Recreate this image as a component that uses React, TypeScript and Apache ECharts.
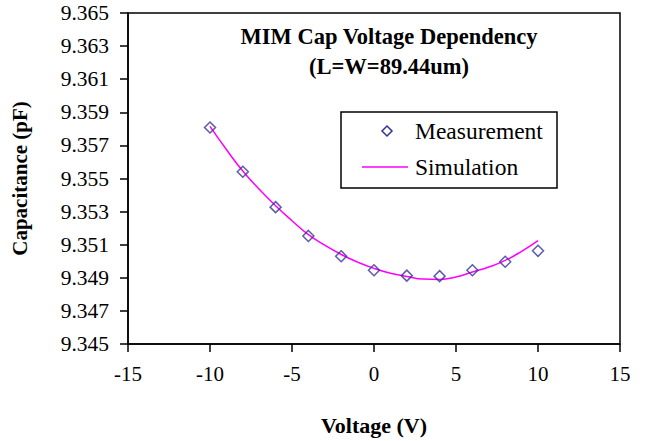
import React, { useEffect, useRef } from "react";
import * as echarts from "echarts";

// Bias voltage (V) at which the capacitance was measured
const measuredVoltage = [-10, -8, -6, -4, -2, 0, 2, 4, 6, 8, 10];
// Measured capacitance (pF)
const measuredCap = [
  9.35808, 9.35541, 9.35327, 9.35153, 9.3503, 9.34946, 9.34913, 9.3491, 9.34946,
  9.34997, 9.35063,
];

// Simulated capacitance curve
const simVoltage = [
  -10, -9, -8, -7, -6, -5, -4, -3, -2, -1, 0, 1, 2, 3, 4, 5, 6, 7, 8, 9, 10,
];
const simCap = [
  9.35815, 9.35675, 9.35545, 9.35435, 9.35335, 9.35245, 9.35161, 9.35097, 9.35041,
  9.34995, 9.34957, 9.34928, 9.34908, 9.34892, 9.3489, 9.34905, 9.34935, 9.34965,
  9.35005, 9.3506, 9.35125,
];

const titleLines = ["MIM Cap Voltage Dependency", "(L=W=89.44um)"];
const seriesNames = ["Measurement", "Simulation"];

const FONT = "'Liberation Serif', 'Times New Roman', serif";
const MARKER_COLOR = "#333399";
const LINE_COLOR = "#ff00ff";

export default function App() {
  const ref = useRef<HTMLDivElement>(null);

  useEffect(() => {
    if (!ref.current) return;
    const chart = echarts.init(ref.current, undefined, { renderer: "svg" });

    chart.setOption({
      animation: false,
      backgroundColor: "#ffffff",
      grid: {
        left: 128,
        top: 13,
        right: 25,
        bottom: 95,
        show: true,
        borderColor: "#000000",
        borderWidth: 1.5,
        backgroundColor: "transparent",
      },
      xAxis: {
        type: "value",
        min: -15,
        max: 15,
        interval: 5,
        name: "Voltage (V)",
        nameLocation: "middle",
        nameGap: 70,
        nameTextStyle: {
          fontFamily: FONT,
          fontWeight: "bold",
          fontSize: 22,
          color: "#000000",
        },
        axisLine: { onZero: false, lineStyle: { color: "#000000", width: 1.5 } },
        axisTick: { show: true, inside: false, length: 8, lineStyle: { color: "#000000", width: 1.5 } },
        axisLabel: {
          fontFamily: FONT,
          fontSize: 21,
          color: "#000000",
          margin: 19,
        },
        splitLine: { show: false },
      },
      yAxis: {
        type: "value",
        min: 9.345,
        max: 9.365,
        interval: 0.002,
        name: "Capacitance (pF)",
        nameLocation: "middle",
        nameGap: 98,
        nameRotate: 90,
        nameTextStyle: {
          fontFamily: FONT,
          fontWeight: "bold",
          fontSize: 21,
          color: "#000000",
        },
        axisLine: { onZero: false, lineStyle: { color: "#000000", width: 1.5 } },
        axisTick: { show: true, inside: false, length: 8, lineStyle: { color: "#000000", width: 1.5 } },
        axisLabel: {
          fontFamily: FONT,
          fontSize: 21.5,
          color: "#000000",
          margin: 19,
          formatter: (v: number) => v.toFixed(3),
        },
        splitLine: { show: false },
      },
      series: [
        {
          name: seriesNames[1],
          type: "line",
          data: simVoltage.map((v, i) => [v, simCap[i]]),
          smooth: true,
          showSymbol: false,
          lineStyle: { color: LINE_COLOR, width: 1.5 },
          z: 2,
        },
        {
          name: seriesNames[0],
          type: "scatter",
          data: measuredVoltage.map((v, i) => [v, measuredCap[i]]),
          symbol: "diamond",
          symbolSize: 11,
          itemStyle: {
            color: "rgba(255,255,255,0)",
            borderColor: MARKER_COLOR,
            borderWidth: 1.5,
          },
          z: 3,
        },
      ],
      graphic: [
        {
          type: "text",
          x: 389,
          y: 36,
          style: {
            text: titleLines[0],
            fontFamily: FONT,
            fontWeight: "bold",
            fontSize: 22.5,
            fill: "#000000",
            align: "center",
            verticalAlign: "middle",
          },
        },
        {
          type: "text",
          x: 389,
          y: 66,
          style: {
            text: titleLines[1],
            fontFamily: FONT,
            fontWeight: "bold",
            fontSize: 22.5,
            fill: "#000000",
            align: "center",
            verticalAlign: "middle",
          },
        },
        // legend box
        {
          type: "rect",
          shape: { x: 341, y: 112, width: 216, height: 76 },
          style: { fill: "#ffffff", stroke: "#000000", lineWidth: 1.5 },
          z: 10,
        },
        {
          type: "polygon",
          shape: {
            points: [
              [387, 126],
              [392, 131],
              [387, 136],
              [382, 131],
            ],
          },
          style: { fill: "none", stroke: MARKER_COLOR, lineWidth: 1.5 },
          z: 11,
        },
        {
          type: "text",
          x: 415,
          y: 131,
          style: {
            text: seriesNames[0],
            fontFamily: FONT,
            fontSize: 23.5,
            fill: "#000000",
            verticalAlign: "middle",
          },
          z: 11,
        },
        {
          type: "line",
          shape: { x1: 362, y1: 167, x2: 408, y2: 167 },
          style: { stroke: LINE_COLOR, lineWidth: 1.5 },
          z: 11,
        },
        {
          type: "text",
          x: 415,
          y: 167,
          style: {
            text: seriesNames[1],
            fontFamily: FONT,
            fontSize: 23.5,
            fill: "#000000",
            verticalAlign: "middle",
          },
          z: 11,
        },
      ],
    });

    return () => chart.dispose();
  }, []);

  return (
    <div
      ref={ref}
      style={{ width: 645, height: 441, position: "absolute", left: 0, top: 0 }}
    />
  );
}
